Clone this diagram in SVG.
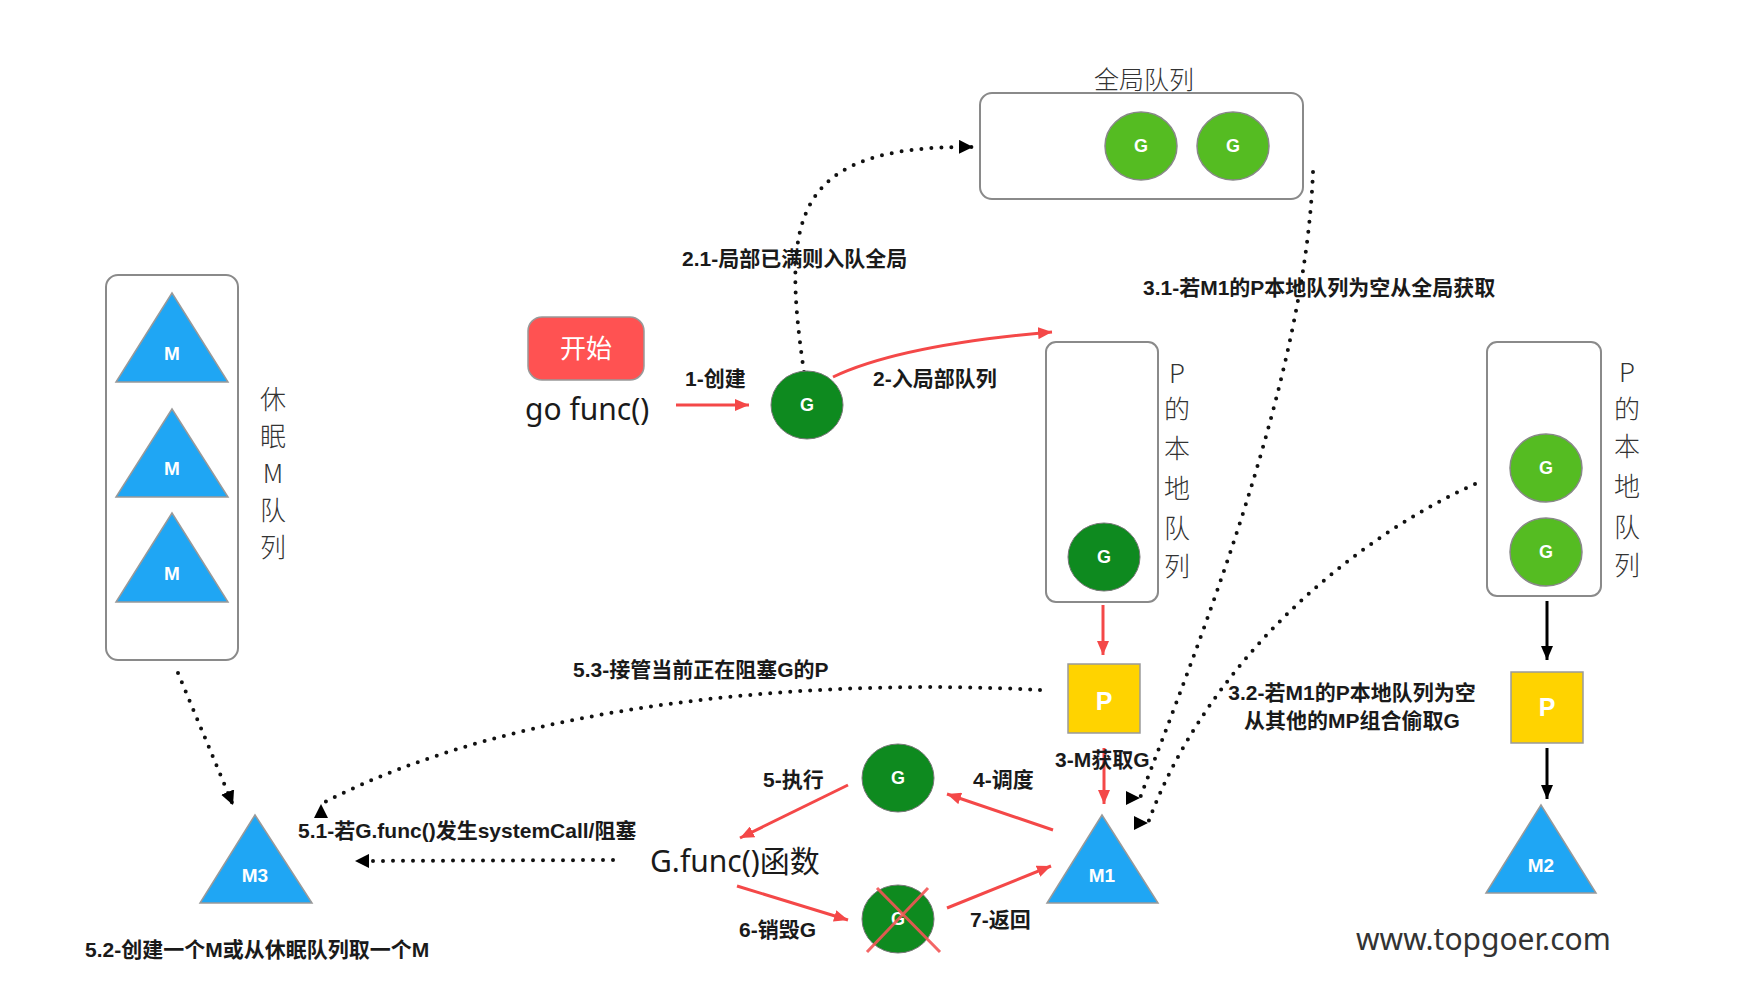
<svg xmlns="http://www.w3.org/2000/svg" width="1764" height="990" viewBox="0 0 1764 990">
<style>
.lbl{font-family:"Liberation Sans","Noto Sans CJK SC",sans-serif;font-weight:bold;font-size:21px;fill:#1a1a1a}
.vt{font-family:"Noto Sans CJK SC",sans-serif;font-weight:300;font-size:26px;fill:#333;text-anchor:middle}
.hand{font-family:"Noto Sans","Noto Sans CJK SC",sans-serif;font-size:30px;fill:#1a1a1a}
.box{fill:#fff;stroke:#8a8a8a;stroke-width:2}
.gd{fill:#0E8A1F;stroke:#777;stroke-width:1}
.gl{fill:#55BC22;stroke:#888;stroke-width:1.5}
.gt{font-family:"Liberation Sans",sans-serif;font-weight:bold;font-size:18px;fill:#fff;text-anchor:middle}
.tri{fill:#1FA6F4;stroke:#999;stroke-width:1.5}
.mt{font-family:"Liberation Sans",sans-serif;font-weight:bold;font-size:19px;fill:#fff;text-anchor:middle}
.pbox{fill:#FFD300;stroke:#9a9a9a;stroke-width:1.5}
.pt{font-family:"Liberation Sans",sans-serif;font-weight:bold;font-size:25px;fill:#fff;text-anchor:middle}
.red{stroke:#F44848;stroke-width:3;fill:none}
.dot{stroke:#111;stroke-width:4;stroke-dasharray:0 10;stroke-linecap:round;fill:none}
.blk{stroke:#000;stroke-width:3;fill:none}
</style>
<defs>
<marker id="ar" markerUnits="userSpaceOnUse" markerWidth="14" markerHeight="12" viewBox="0 0 14 12" refX="14" refY="6" orient="auto"><path d="M0,0 L14,6 L0,12 z" fill="#F44848"/></marker>
<marker id="ab" markerUnits="userSpaceOnUse" markerWidth="14" markerHeight="12" viewBox="0 0 14 12" refX="14" refY="6" orient="auto"><path d="M0,0 L14,6 L0,12 z" fill="#000"/></marker>
<marker id="dk" markerUnits="userSpaceOnUse" markerWidth="14" markerHeight="14" viewBox="0 0 14 14" refX="14" refY="7" orient="auto"><path d="M0,0 L14,7 L0,14 z" fill="#000"/></marker>
<marker id="dkR" markerUnits="userSpaceOnUse" markerWidth="14" markerHeight="14" viewBox="0 0 14 14" refX="14" refY="7" orient="0"><path d="M0,0 L14,7 L0,14 z" fill="#000"/></marker>
<marker id="dkU" markerUnits="userSpaceOnUse" markerWidth="14" markerHeight="14" viewBox="0 0 14 14" refX="14" refY="7" orient="-90"><path d="M0,0 L14,7 L0,14 z" fill="#000"/></marker>
</defs>
<rect width="1764" height="990" fill="#fff"/>

<g id="connectors">
<path class="dot" d="M804,372 C782,220 790,145 973,147" marker-end="url(#dk)"/>
<path class="dot" d="M1313,172 C1305,380 1200,640 1140,798" marker-end="url(#dkR)"/>
<path class="dot" d="M1475,484 C1330,550 1200,680 1148,823" marker-end="url(#dkR)"/>
<path class="dot" d="M1040,690 C820,678 520,700 321,804" marker-end="url(#dkU)"/>
<path class="dot" d="M178,673 L233,805" marker-end="url(#dk)"/>
<path class="dot" d="M613,860 L355,861" marker-end="url(#dk)"/>
<path class="red" d="M676,405 L749,405" marker-end="url(#ar)"/>
<path class="red" d="M833,377 Q900,345 1052,332" marker-end="url(#ar)"/>
<path class="red" d="M1103,605 L1103,655" marker-end="url(#ar)"/>
<path class="red" d="M1104,748 L1104,804" marker-end="url(#ar)"/>
<path class="red" d="M1053,830 L947,794" marker-end="url(#ar)"/>
<path class="red" d="M848,785 L740,838" marker-end="url(#ar)"/>
<path class="red" d="M737,886 L848,920" marker-end="url(#ar)"/>
<path class="red" d="M947,908 L1051,866" marker-end="url(#ar)"/>
<path class="blk" d="M1547,601 L1547,660" marker-end="url(#ab)"/>
<path class="blk" d="M1547,748 L1547,799" marker-end="url(#ab)"/>
<text class="lbl" x="682" y="266">2.1-局部已满则入队全局</text>
<text class="lbl" x="685" y="386">1-创建</text>
<text class="lbl" x="873" y="386">2-入局部队列</text>
<text class="lbl" x="1143" y="295">3.1-若M1的P本地队列为空从全局获取</text>
<text class="lbl" x="1352" y="700" text-anchor="middle">3.2-若M1的P本地队列为空</text>
<text class="lbl" x="1352" y="728" text-anchor="middle">从其他的MP组合偷取G</text>
<text class="lbl" x="1055" y="767">3-M获取G</text>
<text class="lbl" x="973" y="787">4-调度</text>
<text class="lbl" x="763" y="787">5-执行</text>
<text class="lbl" x="739" y="937">6-销毁G</text>
<text class="lbl" x="970" y="927">7-返回</text>
<text class="lbl" x="573" y="677">5.3-接管当前正在阻塞G的P</text>
<text class="lbl" x="298" y="838">5.1-若G.func()发生systemCall/阻塞</text>
<text class="lbl" x="85" y="957">5.2-创建一个M或从休眠队列取一个M</text>
</g>

<g id="sleep-queue">
<rect class="box" x="106" y="275" width="132" height="385" rx="12"/>
<polygon class="tri" points="172,293 116,382 228,382"/>
<text class="mt" x="172" y="360" font-size="17">M</text>
<polygon class="tri" points="172,409 116,497 228,497"/>
<text class="mt" x="172" y="475" font-size="17">M</text>
<polygon class="tri" points="172,513 116,602 228,602"/>
<text class="mt" x="172" y="580" font-size="17">M</text>
<text class="vt"><tspan x="273" y="409">休</tspan><tspan x="273" y="446">眠</tspan><tspan x="273" y="483">M</tspan><tspan x="273" y="520">队</tspan><tspan x="273" y="557">列</tspan></text>
</g>

<g id="start">
<rect x="528" y="317" width="116" height="63" rx="14" fill="#FF5252" stroke="#999" stroke-width="1.5"/>
<text x="586" y="358" text-anchor="middle" font-family="Noto Sans CJK SC, sans-serif" font-size="26" fill="#fff">开始</text>
<text class="hand" x="525" y="420">go func()</text>
</g>

<g id="g-new">
<ellipse class="gd" cx="807" cy="405" rx="36" ry="34"/>
<text class="gt" x="807" y="411">G</text>
</g>

<g id="global-queue">
<text x="1144" y="89" text-anchor="middle" font-family="Noto Sans CJK SC, sans-serif" font-weight="300" font-size="25" fill="#333">全局队列</text>
<rect class="box" x="980" y="93" width="323" height="106" rx="12"/>
<ellipse class="gl" cx="1141" cy="146" rx="36" ry="34"/>
<text class="gt" x="1141" y="152">G</text>
<ellipse class="gl" cx="1233" cy="146" rx="36" ry="34"/>
<text class="gt" x="1233" y="152">G</text>
</g>

<g id="local-queue-1">
<rect class="box" x="1046" y="342" width="112" height="260" rx="10"/>
<ellipse class="gd" cx="1104" cy="557" rx="36" ry="34"/>
<text class="gt" x="1104" y="563">G</text>
<text class="vt"><tspan x="1177" y="383">P</tspan><tspan x="1177" y="419">的</tspan><tspan x="1177" y="458">本</tspan><tspan x="1177" y="498">地</tspan><tspan x="1177" y="538">队</tspan><tspan x="1177" y="576">列</tspan></text>
</g>

<g id="p1">
<rect class="pbox" x="1068" y="664" width="72" height="69"/>
<text class="pt" x="1104" y="710">P</text>
</g>

<g id="m1">
<polygon class="tri" points="1102,815 1047,903 1158,903"/>
<text class="mt" x="1102" y="882">M1</text>
</g>

<g id="local-queue-2">
<rect class="box" x="1487" y="342" width="114" height="254" rx="10"/>
<ellipse class="gl" cx="1546" cy="468" rx="36" ry="34"/>
<text class="gt" x="1546" y="474">G</text>
<ellipse class="gl" cx="1546" cy="552" rx="36" ry="34"/>
<text class="gt" x="1546" y="558">G</text>
<text class="vt"><tspan x="1627" y="382">P</tspan><tspan x="1627" y="419">的</tspan><tspan x="1627" y="456">本</tspan><tspan x="1627" y="496">地</tspan><tspan x="1627" y="537">队</tspan><tspan x="1627" y="575">列</tspan></text>
</g>

<g id="p2">
<rect class="pbox" x="1511" y="672" width="72" height="71"/>
<text class="pt" x="1547" y="716">P</text>
</g>

<g id="m2">
<polygon class="tri" points="1541,805 1486,893 1596,893"/>
<text class="mt" x="1541" y="872">M2</text>
</g>

<g id="g-exec">
<ellipse class="gd" cx="898" cy="778" rx="36" ry="34"/>
<text class="gt" x="898" y="784">G</text>
</g>

<g id="gfunc">
<text class="hand" x="650" y="872">G.func()函数</text>
</g>

<g id="g-destroyed">
<ellipse class="gd" cx="898" cy="919" rx="36" ry="34"/>
<text class="gt" x="898" y="925">G</text>
<path d="M867,952 L928,888 M877,888 L940,952" stroke="#F25555" stroke-width="3" fill="none" opacity="0.9"/>
</g>

<g id="m3">
<polygon class="tri" points="255,815 200,903 312,903"/>
<text class="mt" x="255" y="882">M3</text>
</g>

<g id="watermark">
<text x="1356" y="950" font-family="Noto Sans, sans-serif" font-size="30" fill="#333">www.topgoer.com</text>
</g>
</svg>
